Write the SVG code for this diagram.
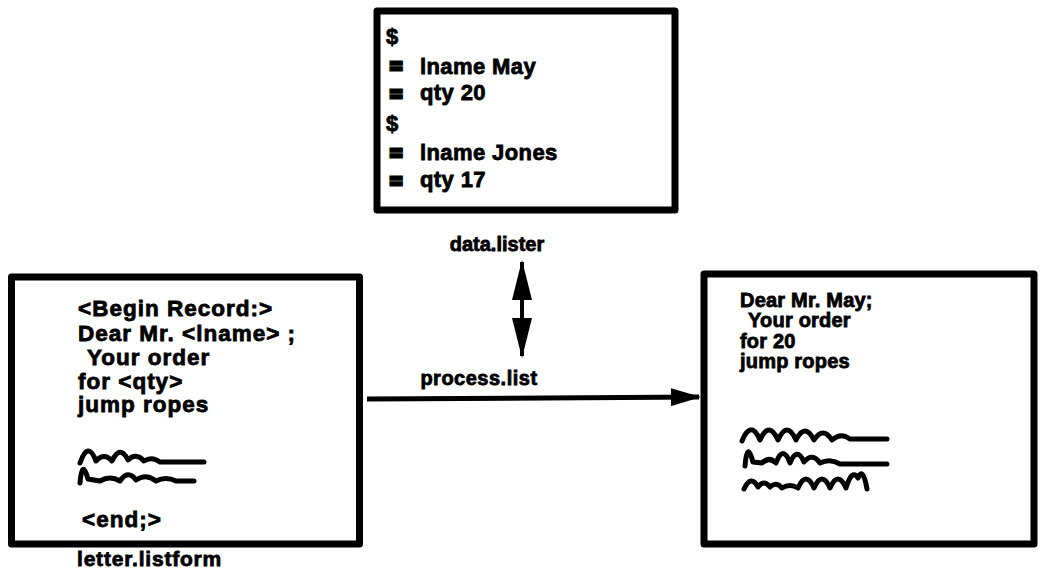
<svg xmlns="http://www.w3.org/2000/svg" width="1041" height="579" viewBox="0 0 1041 579">
<style>
.box{fill:#fff;stroke:#000;stroke-width:7;stroke-linejoin:round}
.t{font-family:"Liberation Sans",Arial,sans-serif;font-weight:bold;fill:#000;stroke:#000;stroke-width:0.8}
.t20{font-size:20px}
.t21{font-size:21px}
.t22{font-size:22px;letter-spacing:0.4px}
.tl{font-size:22.5px;letter-spacing:1px}
.tr{font-size:20px;letter-spacing:0.2px}
.eq{stroke-width:3}
.sq{fill:none;stroke:#000;stroke-width:5;stroke-linecap:round;stroke-linejoin:round}
.conn{fill:none;stroke:#000}
</style>
<defs>
<marker id="headH" markerUnits="userSpaceOnUse" viewBox="0 0 30 18" markerWidth="30" markerHeight="18" refX="28" refY="9" orient="auto-start-reverse">
<path d="M0,0 L30,9 L0,18 Z" fill="#000"/>
</marker>
<marker id="headV" markerUnits="userSpaceOnUse" viewBox="0 0 40 20" markerWidth="40" markerHeight="20" refX="38" refY="10" orient="auto-start-reverse">
<path d="M0,0 L40,10 L0,20 Z" fill="#000"/>
</marker>
</defs>
<rect width="1041" height="579" fill="#fff"/>

<g id="data-lister">
<rect class="box" x="377" y="11" width="298" height="199"/>
<text class="t t22" x="386" y="44">$</text>
<text class="t t21 eq" x="390" y="73">=</text>
<text class="t t22" x="420" y="74">lname May</text>
<text class="t t21 eq" x="390" y="101">=</text>
<text class="t t22" x="420" y="100">qty 20</text>
<text class="t t22" x="386" y="131">$</text>
<text class="t t21 eq" x="390" y="160">=</text>
<text class="t t22" x="420" y="160">lname Jones</text>
<text class="t t21 eq" x="390" y="188">=</text>
<text class="t t22" x="420" y="187">qty 17</text>
<text class="t t20" x="497" y="251" text-anchor="middle">data.lister</text>
</g>

<g id="letter-listform">
<rect class="box" x="11.5" y="277" width="348" height="267"/>
<text class="t tl" x="78" y="316">&lt;Begin Record:&gt;</text>
<text class="t tl" x="78" y="341">Dear Mr. &lt;lname&gt; ;</text>
<text class="t tl" x="87" y="365">Your order</text>
<text class="t tl" x="78" y="389">for &lt;qty&gt;</text>
<text class="t tl" x="78" y="412">jump ropes</text>
<path class="sq" d="M80,463 Q88,440 96,461 Q104,452 112,461 Q120,444 128,460 Q136,452 144,461 Q152,456 160,462 L204,462"/>
<path class="sq" d="M80,483 Q82,458 88,479 L100,481 Q110,475 120,481 Q128,469 136,480 Q146,473 156,481 Q166,476 176,481 L194,481"/>
<text class="t tl" x="82" y="527">&lt;end;&gt;</text>
<text class="t t21" x="77" y="566" style="letter-spacing:0.8px">letter.listform</text>
</g>

<g id="letter-out">
<rect class="box" x="704" y="274" width="330" height="270"/>
<text class="t tr" x="740" y="307">Dear Mr. May;</text>
<text class="t tr" x="748" y="327">Your order</text>
<text class="t tr" x="740" y="348">for 20</text>
<text class="t tr" x="740" y="368">jump ropes</text>
<path class="sq" d="M742,441 Q751,419 760,440 Q769,420 778,440 Q787,420 796,440 Q805,422 814,440 Q823,426 832,440 Q841,432 850,439 L887,439"/>
<path class="sq" d="M745,466 Q747,440 753,462 L762,463 Q769,456 776,463 Q783,444 790,463 Q797,446 804,462 Q812,452 820,463 Q830,458 840,464 L887,464"/>
<path class="sq" d="M744,489 Q751,474 758,487 Q764,479 770,487 Q776,481 782,488 Q790,483 798,488 Q806,470 814,488 Q822,470 830,488 Q838,470 846,488 Q852,468 858,478 Q863,466 867,489"/>
</g>

<g id="connectors">
<line class="conn" x1="522" y1="262" x2="522" y2="356" stroke-width="4" marker-start="url(#headV)" marker-end="url(#headV)"/>
<line class="conn" x1="367" y1="399" x2="699" y2="397" stroke-width="5" marker-end="url(#headH)"/>
<text class="t t20" x="479" y="385" text-anchor="middle" style="letter-spacing:0.5px">process.list</text>
</g>
</svg>
